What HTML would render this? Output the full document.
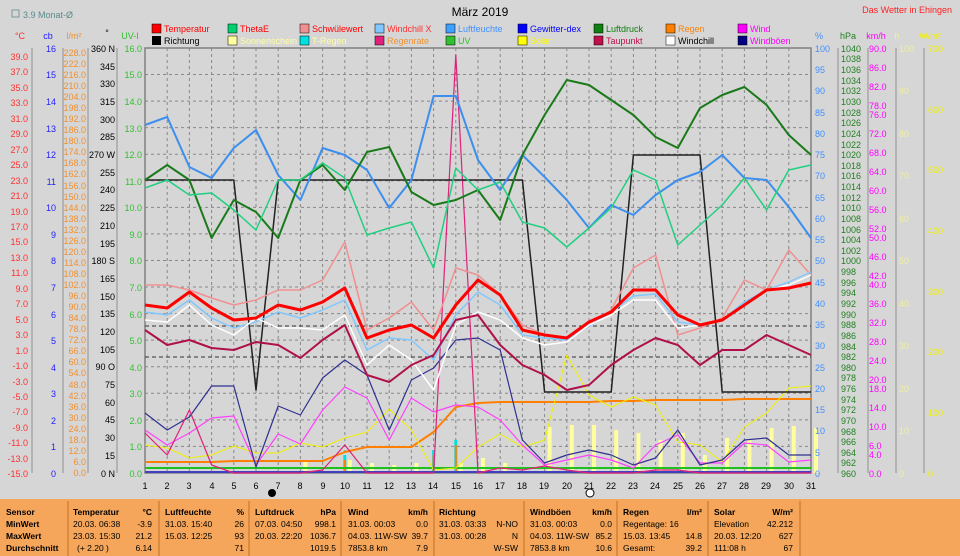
<!DOCTYPE html>
<html><head><meta charset="utf-8"><style>
html,body{margin:0;padding:0;background:#d6d6d6;}
body{width:960px;height:556px;overflow:hidden;font-family:"Liberation Sans",sans-serif;position:relative;}
svg text{font-family:"Liberation Sans",sans-serif;font-size:9px;}
</style></head><body>
<svg id="s" style="position:absolute;left:0;top:0" width="960" height="556" viewBox="0 0 960 556" xmlns="http://www.w3.org/2000/svg">
<rect width="960" height="556" fill="#d6d6d6"/>
<text x="480" y="16" text-anchor="middle" style="font-size:12px" fill="#000">März 2019</text>
<rect x="12" y="10" width="7" height="7" fill="none" stroke="#7a9a9a"/>
<text x="23" y="18" fill="#5a8a8a">3.9 Monat-Ø</text>
<text x="952" y="13" text-anchor="end" fill="#ff2020">Das Wetter in Ehingen</text>
<text x="20" y="39" text-anchor="middle" fill="#ff3030">°C</text>
<text x="48" y="39" text-anchor="middle" fill="#2020ff">cb</text>
<text x="74" y="39" text-anchor="middle" fill="#f09030">l/m²</text>
<text x="107" y="36" text-anchor="middle" fill="#000">°</text>
<text x="130" y="39" text-anchor="middle" fill="#30c030">UV-I</text>
<text x="819" y="39" text-anchor="middle" fill="#4090ff">%</text>
<text x="848" y="39" text-anchor="middle" fill="#208020">hPa</text>
<text x="876" y="39" text-anchor="middle" fill="#ff00ff">km/h</text>
<text x="897" y="39" text-anchor="middle" fill="#f0f0a0">h</text>
<text x="930" y="39" text-anchor="middle" fill="#f0f000">W/m²</text>
<g id="axes"></g>
<rect x="145" y="48" width="666" height="425" fill="none" stroke="#808080" stroke-width="1.5"/>
<g id="grid"></g>
<g id="series"></g>
<circle cx="272" cy="493" r="4" fill="#000"/>
<circle cx="590" cy="493" r="4" fill="#fff" stroke="#000"/>
<rect x="0" y="499" width="960" height="57" fill="#f5a65a"/>
</svg>
<svg style="position:absolute;left:0;top:0" width="960" height="556" xmlns="http://www.w3.org/2000/svg">
<g>
<g fill="#ff3030" text-anchor="end">
<text x="28" y="60">39.0</text><text x="28" y="75">37.0</text><text x="28" y="91">35.0</text><text x="28" y="106">33.0</text><text x="28" y="122">31.0</text><text x="28" y="137">29.0</text><text x="28" y="153">27.0</text><text x="28" y="168">25.0</text><text x="28" y="184">23.0</text><text x="28" y="199">21.0</text><text x="28" y="215">19.0</text><text x="28" y="230">17.0</text><text x="28" y="245">15.0</text><text x="28" y="261">13.0</text><text x="28" y="276">11.0</text><text x="28" y="292">9.0</text><text x="28" y="307">7.0</text><text x="28" y="323">5.0</text><text x="28" y="338">3.0</text><text x="28" y="354">1.0</text><text x="28" y="369">-1.0</text><text x="28" y="385">-3.0</text><text x="28" y="400">-5.0</text><text x="28" y="415">-7.0</text><text x="28" y="431">-9.0</text><text x="28" y="446">-11.0</text><text x="28" y="462">-13.0</text><text x="28" y="477">-15.0</text>
</g>
<g fill="#2020ff" text-anchor="end">
<text x="56" y="52">16</text><text x="56" y="78">15</text><text x="56" y="105">14</text><text x="56" y="132">13</text><text x="56" y="158">12</text><text x="56" y="185">11</text><text x="56" y="211">10</text><text x="56" y="238">9</text><text x="56" y="264">8</text><text x="56" y="291">7</text><text x="56" y="318">6</text><text x="56" y="344">5</text><text x="56" y="371">4</text><text x="56" y="397">3</text><text x="56" y="424">2</text><text x="56" y="450">1</text><text x="56" y="477">0</text>
</g>
<g fill="#f09030" text-anchor="end">
<text x="86" y="56">228.0</text><text x="86" y="67">222.0</text><text x="86" y="78">216.0</text><text x="86" y="89">210.0</text><text x="86" y="100">204.0</text><text x="86" y="111">198.0</text><text x="86" y="122">192.0</text><text x="86" y="133">186.0</text><text x="86" y="144">180.0</text><text x="86" y="155">174.0</text><text x="86" y="166">168.0</text><text x="86" y="177">162.0</text><text x="86" y="189">156.0</text><text x="86" y="200">150.0</text><text x="86" y="211">144.0</text><text x="86" y="222">138.0</text><text x="86" y="233">132.0</text><text x="86" y="244">126.0</text><text x="86" y="255">120.0</text><text x="86" y="266">114.0</text><text x="86" y="277">108.0</text><text x="86" y="288">102.0</text><text x="86" y="299">96.0</text><text x="86" y="310">90.0</text><text x="86" y="321">84.0</text><text x="86" y="332">78.0</text><text x="86" y="343">72.0</text><text x="86" y="354">66.0</text><text x="86" y="365">60.0</text><text x="86" y="376">54.0</text><text x="86" y="388">48.0</text><text x="86" y="399">42.0</text><text x="86" y="410">36.0</text><text x="86" y="421">30.0</text><text x="86" y="432">24.0</text><text x="86" y="443">18.0</text><text x="86" y="454">12.0</text><text x="86" y="465">6.0</text><text x="86" y="476">0.0</text>
</g>
<g fill="#000" text-anchor="end">
<text x="115" y="52">360 N</text><text x="115" y="70">345</text><text x="115" y="87">330</text><text x="115" y="105">315</text><text x="115" y="123">300</text><text x="115" y="140">285</text><text x="115" y="158">270 W</text><text x="115" y="176">255</text><text x="115" y="193">240</text><text x="115" y="211">225</text><text x="115" y="229">210</text><text x="115" y="247">195</text><text x="115" y="264">180 S</text><text x="115" y="282">165</text><text x="115" y="300">150</text><text x="115" y="317">135</text><text x="115" y="335">120</text><text x="115" y="353">105</text><text x="115" y="370">90 O</text><text x="115" y="388">75</text><text x="115" y="406">60</text><text x="115" y="423">45</text><text x="115" y="441">30</text><text x="115" y="459">15</text><text x="115" y="477">0 N</text>
</g>
<g fill="#30c030" text-anchor="end">
<text x="142" y="52">16.0</text><text x="142" y="78">15.0</text><text x="142" y="105">14.0</text><text x="142" y="132">13.0</text><text x="142" y="158">12.0</text><text x="142" y="185">11.0</text><text x="142" y="211">10.0</text><text x="142" y="238">9.0</text><text x="142" y="264">8.0</text><text x="142" y="291">7.0</text><text x="142" y="318">6.0</text><text x="142" y="344">5.0</text><text x="142" y="371">4.0</text><text x="142" y="397">3.0</text><text x="142" y="424">2.0</text><text x="142" y="450">1.0</text><text x="142" y="477">0.0</text>
</g>
<g fill="#4090ff">
<text x="815" y="52">100</text><text x="815" y="73">95</text><text x="815" y="94">90</text><text x="815" y="116">85</text><text x="815" y="137">80</text><text x="815" y="158">75</text><text x="815" y="179">70</text><text x="815" y="201">65</text><text x="815" y="222">60</text><text x="815" y="243">55</text><text x="815" y="264">50</text><text x="815" y="286">45</text><text x="815" y="307">40</text><text x="815" y="328">35</text><text x="815" y="349">30</text><text x="815" y="371">25</text><text x="815" y="392">20</text><text x="815" y="413">15</text><text x="815" y="434">10</text><text x="815" y="456">5</text><text x="815" y="477">0</text>
</g>
<g fill="#208020" style="font-size:8.5px">
<text x="841" y="52">1040</text><text x="841" y="62">1038</text><text x="841" y="73">1036</text><text x="841" y="84">1034</text><text x="841" y="94">1032</text><text x="841" y="105">1030</text><text x="841" y="116">1028</text><text x="841" y="126">1026</text><text x="841" y="137">1024</text><text x="841" y="148">1022</text><text x="841" y="158">1020</text><text x="841" y="169">1018</text><text x="841" y="179">1016</text><text x="841" y="190">1014</text><text x="841" y="201">1012</text><text x="841" y="211">1010</text><text x="841" y="222">1008</text><text x="841" y="233">1006</text><text x="841" y="243">1004</text><text x="841" y="254">1002</text><text x="841" y="264">1000</text><text x="841" y="275">998</text><text x="841" y="286">996</text><text x="841" y="296">994</text><text x="841" y="307">992</text><text x="841" y="318">990</text><text x="841" y="328">988</text><text x="841" y="339">986</text><text x="841" y="350">984</text><text x="841" y="360">982</text><text x="841" y="371">980</text><text x="841" y="381">978</text><text x="841" y="392">976</text><text x="841" y="403">974</text><text x="841" y="413">972</text><text x="841" y="424">970</text><text x="841" y="435">968</text><text x="841" y="445">966</text><text x="841" y="456">964</text><text x="841" y="466">962</text><text x="841" y="477">960</text>
</g>
<g fill="#ff00ff">
<text x="869" y="52">90.0</text><text x="869" y="71">86.0</text><text x="869" y="90">82.0</text><text x="869" y="109">78.0</text><text x="869" y="118">76.0</text><text x="869" y="137">72.0</text><text x="869" y="156">68.0</text><text x="869" y="175">64.0</text><text x="869" y="194">60.0</text><text x="869" y="213">56.0</text><text x="869" y="232">52.0</text><text x="869" y="241">50.0</text><text x="869" y="260">46.0</text><text x="869" y="279">42.0</text><text x="869" y="288">40.0</text><text x="869" y="307">36.0</text><text x="869" y="326">32.0</text><text x="869" y="345">28.0</text><text x="869" y="364">24.0</text><text x="869" y="383">20.0</text><text x="869" y="392">18.0</text><text x="869" y="411">14.0</text><text x="869" y="430">10.0</text><text x="869" y="449">6.0</text><text x="869" y="458">4.0</text><text x="869" y="477">0.0</text>
</g>
<g fill="#f0f0a0">
<text x="899" y="52">100</text><text x="899" y="94">90</text><text x="899" y="137">80</text><text x="899" y="179">70</text><text x="899" y="222">60</text><text x="899" y="264">50</text><text x="899" y="307">40</text><text x="899" y="349">30</text><text x="899" y="392">20</text><text x="899" y="434">10</text><text x="899" y="477">0</text>
</g>
<g fill="#f0f000">
<text x="928" y="52">700</text><text x="928" y="113">600</text><text x="928" y="173">500</text><text x="928" y="234">400</text><text x="928" y="295">300</text><text x="928" y="355">200</text><text x="928" y="416">100</text><text x="928" y="477">0</text>
</g>
<g fill="#000" text-anchor="middle">
<text x="145" y="489">1</text><text x="167" y="489">2</text><text x="189" y="489">3</text><text x="212" y="489">4</text><text x="234" y="489">5</text><text x="256" y="489">6</text><text x="278" y="489">7</text><text x="300" y="489">8</text><text x="323" y="489">9</text><text x="345" y="489">10</text><text x="367" y="489">11</text><text x="389" y="489">12</text><text x="411" y="489">13</text><text x="433" y="489">14</text><text x="456" y="489">15</text><text x="478" y="489">16</text><text x="500" y="489">17</text><text x="522" y="489">18</text><text x="544" y="489">19</text><text x="567" y="489">20</text><text x="589" y="489">21</text><text x="611" y="489">22</text><text x="633" y="489">23</text><text x="655" y="489">24</text><text x="678" y="489">25</text><text x="700" y="489">26</text><text x="722" y="489">27</text><text x="744" y="489">28</text><text x="766" y="489">29</text><text x="789" y="489">30</text><text x="811" y="489">31</text>
</g>
<g>
<rect x="152" y="24" width="9" height="9" fill="#ff0000" stroke="#000" stroke-width=".5"/><text x="164" y="32" fill="#ff0000">Temperatur</text>
<rect x="152" y="36" width="9" height="9" fill="#000"/><text x="164" y="44" fill="#000">Richtung</text>
<rect x="228" y="24" width="9" height="9" fill="#00d070" stroke="#000" stroke-width=".5"/><text x="240" y="32" fill="#ff0000">ThetaE</text>
<rect x="228" y="36" width="9" height="9" fill="#ffffa0" stroke="#000" stroke-width=".5"/><text x="240" y="44" fill="#ffffa0">Sonnenschein</text>
<rect x="300" y="24" width="9" height="9" fill="#f09090" stroke="#000" stroke-width=".5"/><text x="312" y="32" fill="#ff0000">Schwülewert</text>
<rect x="300" y="36" width="9" height="9" fill="#00e0e0" stroke="#000" stroke-width=".5"/><text x="312" y="44" fill="#ffffa0">T-Regen</text>
<rect x="375" y="24" width="9" height="9" fill="#80c8ff" stroke="#000" stroke-width=".5"/><text x="387" y="32" fill="#ff3030">Windchill X</text>
<rect x="375" y="36" width="9" height="9" fill="#e0207a" stroke="#000" stroke-width=".5"/><text x="387" y="44" fill="#f09030">Regenrate</text>
<rect x="446" y="24" width="9" height="9" fill="#40a0ff" stroke="#000" stroke-width=".5"/><text x="458" y="32" fill="#4090ff">Luftfeuchte</text>
<rect x="446" y="36" width="9" height="9" fill="#30c030" stroke="#000" stroke-width=".5"/><text x="458" y="44" fill="#30c030">UV</text>
<rect x="518" y="24" width="9" height="9" fill="#0000ff" stroke="#000" stroke-width=".5"/><text x="530" y="32" fill="#0000ff">Gewitter-dex</text>
<rect x="518" y="36" width="9" height="9" fill="#ffff00" stroke="#000" stroke-width=".5"/><text x="530" y="44" fill="#ffff00">Solar</text>
<rect x="594" y="24" width="9" height="9" fill="#108010" stroke="#000" stroke-width=".5"/><text x="606" y="32" fill="#108010">Luftdruck</text>
<rect x="594" y="36" width="9" height="9" fill="#c0104a" stroke="#000" stroke-width=".5"/><text x="606" y="44" fill="#c0104a">Taupunkt</text>
<rect x="666" y="24" width="9" height="9" fill="#ff8000" stroke="#000" stroke-width=".5"/><text x="678" y="32" fill="#ff8000">Regen</text>
<rect x="666" y="36" width="9" height="9" fill="#fff" stroke="#000" stroke-width=".5"/><text x="678" y="44" fill="#000">Windchill</text>
<rect x="738" y="24" width="9" height="9" fill="#ff00ff" stroke="#000" stroke-width=".5"/><text x="750" y="32" fill="#ff00ff">Wind</text>
<rect x="738" y="36" width="9" height="9" fill="#000080" stroke="#000" stroke-width=".5"/><text x="750" y="44" fill="#ff00ff">Windböen</text>
</g>
<g fill="#000" style="font-size:8.5px">
<g stroke="#c07020"><line x1="68" y1="501" x2="68" y2="556"/><line x1="159" y1="501" x2="159" y2="556"/><line x1="249" y1="501" x2="249" y2="556"/><line x1="341" y1="501" x2="341" y2="556"/><line x1="434" y1="501" x2="434" y2="556"/><line x1="524" y1="501" x2="524" y2="556"/><line x1="617" y1="501" x2="617" y2="556"/><line x1="708" y1="501" x2="708" y2="556"/><line x1="800" y1="501" x2="800" y2="556"/></g>
<g font-weight="bold"><text x="6" y="515" style="font-size:8.5px">Sensor</text><text x="6" y="527" style="font-size:8.5px">MinWert</text><text x="6" y="539" style="font-size:8.5px">MaxWert</text><text x="6" y="551" style="font-size:8.5px">Durchschnitt</text>
<text x="73" y="515" style="font-size:8.5px">Temperatur</text><text x="152" y="515" text-anchor="end" style="font-size:8.5px">°C</text>
<text x="165" y="515" style="font-size:8.5px">Luftfeuchte</text><text x="244" y="515" text-anchor="end" style="font-size:8.5px">%</text>
<text x="255" y="515" style="font-size:8.5px">Luftdruck</text><text x="336" y="515" text-anchor="end" style="font-size:8.5px">hPa</text>
<text x="348" y="515" style="font-size:8.5px">Wind</text><text x="428" y="515" text-anchor="end" style="font-size:8.5px">km/h</text>
<text x="439" y="515" style="font-size:8.5px">Richtung</text>
<text x="530" y="515" style="font-size:8.5px">Windböen</text><text x="612" y="515" text-anchor="end" style="font-size:8.5px">km/h</text>
<text x="623" y="515" style="font-size:8.5px">Regen</text><text x="702" y="515" text-anchor="end" style="font-size:8.5px">l/m²</text>
<text x="714" y="515" style="font-size:8.5px">Solar</text><text x="793" y="515" text-anchor="end" style="font-size:8.5px">W/m²</text></g>
<g style="font-size:8.5px">
<text x="73" y="527" style="font-size:8.5px">20.03. 06:38</text><text x="152" y="527" text-anchor="end" style="font-size:8.5px">-3.9</text>
<text x="73" y="539" style="font-size:8.5px">23.03. 15:30</text><text x="152" y="539" text-anchor="end" style="font-size:8.5px">21.2</text>
<text x="77" y="551" style="font-size:8.5px">(+ 2.20 )</text><text x="152" y="551" text-anchor="end" style="font-size:8.5px">6.14</text>
<text x="165" y="527" style="font-size:8.5px">31.03. 15:40</text><text x="244" y="527" text-anchor="end" style="font-size:8.5px">26</text>
<text x="165" y="539" style="font-size:8.5px">15.03. 12:25</text><text x="244" y="539" text-anchor="end" style="font-size:8.5px">93</text>
<text x="244" y="551" text-anchor="end" style="font-size:8.5px">71</text>
<text x="255" y="527" style="font-size:8.5px">07.03. 04:50</text><text x="336" y="527" text-anchor="end" style="font-size:8.5px">998.1</text>
<text x="255" y="539" style="font-size:8.5px">20.03. 22:20</text><text x="336" y="539" text-anchor="end" style="font-size:8.5px">1036.7</text>
<text x="336" y="551" text-anchor="end" style="font-size:8.5px">1019.5</text>
<text x="348" y="527" style="font-size:8.5px">31.03. 00:03</text><text x="428" y="527" text-anchor="end" style="font-size:8.5px">0.0</text>
<text x="348" y="539" style="font-size:8.5px">04.03. 11W-SW</text><text x="428" y="539" text-anchor="end" style="font-size:8.5px">39.7</text>
<text x="348" y="551" style="font-size:8.5px">7853.8 km</text><text x="428" y="551" text-anchor="end" style="font-size:8.5px">7.9</text>
<text x="439" y="527" style="font-size:8.5px">31.03. 03:33</text><text x="518" y="527" text-anchor="end" style="font-size:8.5px">N-NO</text>
<text x="439" y="539" style="font-size:8.5px">31.03. 00:28</text><text x="518" y="539" text-anchor="end" style="font-size:8.5px">N</text>
<text x="518" y="551" text-anchor="end" style="font-size:8.5px">W-SW</text>
<text x="530" y="527" style="font-size:8.5px">31.03. 00:03</text><text x="612" y="527" text-anchor="end" style="font-size:8.5px">0.0</text>
<text x="530" y="539" style="font-size:8.5px">04.03. 11W-SW</text><text x="612" y="539" text-anchor="end" style="font-size:8.5px">85.2</text>
<text x="530" y="551" style="font-size:8.5px">7853.8 km</text><text x="612" y="551" text-anchor="end" style="font-size:8.5px">10.6</text>
<text x="623" y="527" style="font-size:8.5px">Regentage: 16</text>
<text x="623" y="539" style="font-size:8.5px">15.03. 13:45</text><text x="702" y="539" text-anchor="end" style="font-size:8.5px">14.8</text>
<text x="623" y="551" style="font-size:8.5px">Gesamt:</text><text x="702" y="551" text-anchor="end" style="font-size:8.5px">39.2</text>
<text x="714" y="527" style="font-size:8.5px">Elevation</text><text x="793" y="527" text-anchor="end" style="font-size:8.5px">42.212</text>
<text x="714" y="539" style="font-size:8.5px">20.03. 12:20</text><text x="793" y="539" text-anchor="end" style="font-size:8.5px">627</text>
<text x="714" y="551" style="font-size:8.5px">111:08 h</text><text x="793" y="551" text-anchor="end" style="font-size:8.5px">67</text>
</g>
</g>
</g>
</svg>
<script>
var ns="http://www.w3.org/2000/svg";
function el(p,t,a){var e=document.createElementNS(ns,t);for(var k in a)e.setAttribute(k,a[k]);document.getElementById(p).appendChild(e);return e;}
function X(d){return 145+(d-1)*22.2;}
for(var d=2;d<=30;d++)el('grid','line',{x1:X(d),x2:X(d),y1:48,y2:473,stroke:'#888','stroke-dasharray':'3,3'});
for(var i=1;i<16;i++){var y=48+i*26.56;el('grid','line',{x1:145,x2:811,y1:y,y2:y,stroke:'#888','stroke-dasharray':'3,3'});}
[32,63,88,117,145,811,838,868,896,924].forEach(function(a){el('axes','line',{x1:a,x2:a,y1:48,y2:473,stroke:'#909090'});});
var sun={8:462,10:460,11:463,12:465,13:463,15:463,16:458,17:463,19:427,20:425,21:425,22:430,23:433,24:440,25:433,26:455,27:438,28:440,29:428,30:426,31:428};
for(var k in sun)el('series','rect',{x:X(+k)+3,y:sun[k],width:4,height:473-sun[k],fill:'#ffffa0'});
[[10,455],[14,450],[15,440]].forEach(function(a){el('series','rect',{x:X(a[0])-1.5,y:a[1],width:3,height:473-a[1],fill:'#00e0e0'});el('series','rect',{x:X(a[0])-1,y:a[1]+5,width:2,height:468-a[1],fill:'#ff8000'});});
el('series','line',{x1:145,x2:811,y1:468,y2:468,stroke:'#20c020','stroke-width':2});
el('series','line',{x1:145,x2:811,y1:472,y2:472,stroke:'#4040c0','stroke-width':2});
el('series','line',{x1:145,x2:811,y1:326,y2:326,stroke:'#333','stroke-dasharray':'4,3'});
el('series','line',{x1:145,x2:811,y1:357,y2:357,stroke:'#333','stroke-dasharray':'4,3'});
function P(ys,c,w){var pts=ys.map(function(y,i){return X(i+1)+','+y;}).join(' ');el('series','polyline',{points:pts,fill:'none',stroke:c,'stroke-width':w||1.5,'stroke-linejoin':'round'});}
P([462,462,462,462,461,461,461,461,461,452,447,447,447,432,407,403,402,402,402,402,402,401,401,400,400,400,400,399,399,399,399],'#ff8000',2);
P([445,448,458,455,446,453,453,443,447,438,432,409,430,470,468,447,434,447,440,355,395,407,397,405,442,445,462,427,413,388,386],'#f0f000',1);
P([430,445,433,418,416,465,434,444,410,387,398,440,398,412,405,407,420,445,465,460,455,460,468,445,435,463,463,443,445,462,460],'#ff40ff',1.2);
P([413,430,417,386,386,467,406,415,378,360,375,430,380,368,340,338,350,440,463,455,450,455,465,458,430,465,460,440,438,455,455],'#303090',1.2);
P([433,455,410,465,473,473,473,473,470,445,473,473,473,473,55,473,468,470,466,470,473,473,473,470,470,473,473,473,473,473,473],'#e0207a',1.2);
P([180,180,180,180,180,390,180,180,180,180,180,180,180,180,180,180,180,180,392,392,392,392,155,155,155,155,392,392,392,392,392],'#222',1.5);
P([125,117,167,178,148,130,175,200,148,155,170,208,180,96,96,160,190,155,177,200,228,205,215,195,180,172,155,178,180,207,238],'#3d8fee',2);
P([180,165,180,238,200,212,238,180,165,190,152,147,192,205,200,190,220,155,115,80,85,100,115,137,148,108,95,87,105,135,155],'#1a7a1a',2);
P([188,180,195,193,210,230,180,180,163,178,235,228,222,268,168,190,182,222,228,247,228,208,170,180,245,225,205,178,210,170,165],'#20d080',1.5);
P([285,285,290,298,305,300,290,290,280,242,330,318,302,330,268,275,295,325,335,340,325,310,268,255,335,328,318,280,290,250,275],'#f09090',1.5);
P([312,315,300,318,328,322,312,318,310,300,350,338,340,360,315,292,305,335,338,340,326,312,296,294,322,325,320,302,290,282,272],'#80c8ff',1.5);
P([320,322,305,325,335,318,328,328,330,315,365,345,360,390,325,312,320,338,345,342,325,315,300,300,328,325,320,305,290,285,275],'#ffffff',1.5);
P([330,345,340,348,350,342,345,358,340,325,375,382,365,355,320,315,345,365,375,390,385,365,350,338,345,365,350,350,335,345,355],'#b0104a',2);
P([305,308,292,308,320,318,305,310,302,288,338,330,325,338,305,280,295,330,335,338,322,312,290,290,315,325,320,305,290,288,283],'#ff0000',3);
</script>
</body></html>
